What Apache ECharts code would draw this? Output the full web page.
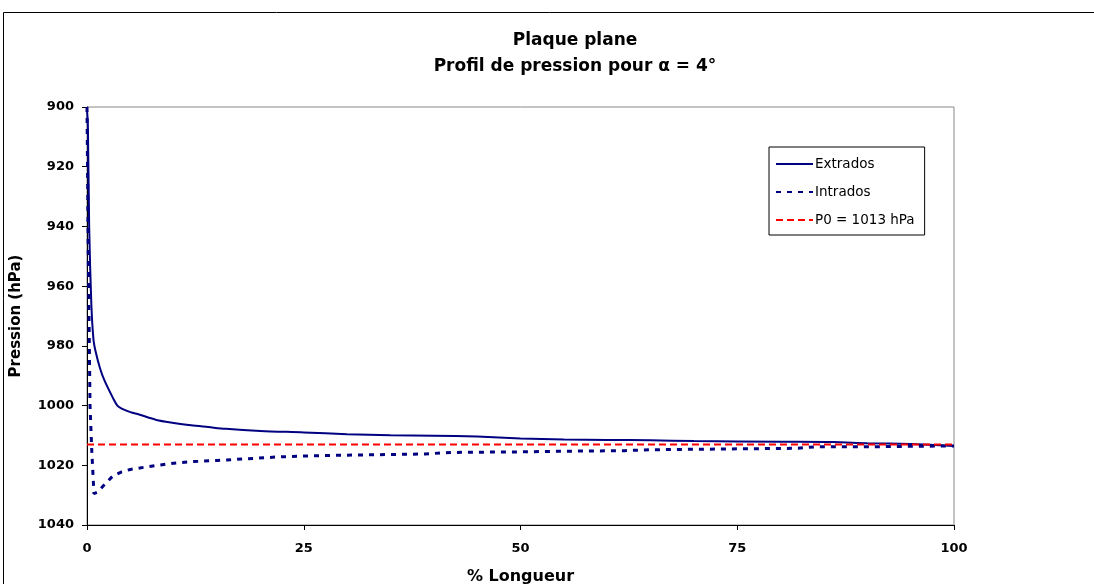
<!DOCTYPE html>
<html>
<head>
<meta charset="utf-8">
<script src="https://cdn.jsdelivr.net/npm/echarts@6/dist/echarts.min.js"></script>
<style>html,body{margin:0;padding:0;background:#fff;}#c{width:1094px;height:584px;}</style>
</head>
<body>
<div id="c"></div>
<script>
// % longueur / pression (hPa)
const extradosX = [0, 0.1, 0.25, 0.5, 0.75, 1, 1.5, 2, 3, 3.5, 4, 5, 6, 8, 10, 12, 14, 16, 20, 25, 30, 35, 40, 45, 50, 55, 60, 65, 70, 80, 86, 90, 95, 100];
const extradosP = [901, 906, 940, 966, 978, 982, 987.5, 991.5, 997.5, 1000, 1001, 1002.2, 1003, 1004.8, 1005.8, 1006.6, 1007.2, 1007.8, 1008.5, 1009, 1009.6, 1009.9, 1010.1, 1010.4, 1011, 1011.4, 1011.5, 1011.6, 1011.9, 1012.1, 1012.2, 1012.6, 1012.9, 1013.5];
const intradosX = [0, 0.15, 0.35, 0.55, 0.8, 1.2, 2, 3, 4, 5, 6.5, 8.5, 10, 12, 15, 18, 22, 25, 30, 35, 39, 42, 50, 55, 62, 65, 75, 82, 84, 90, 100];
const intradosP = [900, 950, 1000, 1015, 1029.5, 1029, 1026.5, 1023.5, 1022.2, 1021.4, 1020.7, 1019.9, 1019.3, 1018.8, 1018.4, 1017.9, 1017.2, 1016.9, 1016.6, 1016.4, 1016.2, 1015.7, 1015.5, 1015.3, 1015.1, 1014.8, 1014.5, 1014.3, 1013.8, 1013.8, 1013.5];
const p0X = [0, 100];
const p0P = [1013, 1013];
const seriesNames = ['Extrados', 'Intrados', 'P0 = 1013 hPa'];
const titleText = 'Plaque plane\nProfil de pression pour α = 4°';
const xTitle = '% Longueur';
const yTitle = 'Pression (hPa)';

const zip = (a, b) => a.map((v, i) => [v, b[i]]);
const chart = echarts.init(document.getElementById('c'), null, {renderer: 'canvas'});
const font = '"DejaVu Sans", Arial, sans-serif';
chart.setOption({
  animation: false,
  backgroundColor: '#fff',
  graphic: [{
    type: 'rect', shape: {x: 3.5, y: 12.5, width: 1200, height: 700},
    style: {fill: null, stroke: '#000', lineWidth: 1}, z: -1
  }],
  title: {
    text: titleText, left: 570, top: 23, textAlign: 'center',
    textStyle: {fontFamily: font, fontWeight: 'bold', fontSize: 17, lineHeight: 26, color: '#000'}
  },
  grid: {left: 87, top: 107, width: 867, height: 418, show: true, borderColor: '#888', borderWidth: 1,
         backgroundColor: '#fff', outerBoundsMode: 'none', containLabel: false},
  legend: {
    orient: 'vertical', left: 769, top: 147,
    data: seriesNames,
    backgroundColor: '#fff', borderColor: '#000', borderWidth: 1,
    padding: [10, 10, 8, 6], itemGap: 14, itemWidth: 37, itemHeight: 17,
    itemStyle: {opacity: 0},
    textStyle: {fontFamily: font, fontSize: 13.5, color: '#000', padding: [0, 0, 0, -3]}
  },
  xAxis: {
    type: 'value', min: 0, max: 100, interval: 25,
    name: xTitle, nameLocation: 'middle', nameGap: 44,
    nameTextStyle: {fontFamily: font, fontWeight: 'bold', fontSize: 16, color: '#000'},
    axisLine: {lineStyle: {color: '#000', width: 1}},
    axisTick: {show: true, length: 5, lineStyle: {color: '#000'}},
    axisLabel: {margin: 17, fontFamily: font, fontWeight: 'bold', fontSize: 13, color: '#000'},
    splitLine: {show: false}
  },
  yAxis: {
    type: 'value', inverse: true, min: 900, max: 1040, interval: 20,
    name: yTitle, nameLocation: 'middle', nameGap: 63, nameRotate: 90,
    nameTextStyle: {fontFamily: font, fontWeight: 'bold', fontSize: 15, color: '#000'},
    axisLine: {show: true, lineStyle: {color: '#000', width: 1}},
    axisTick: {show: true, length: 5, lineStyle: {color: '#000'}},
    axisLabel: {margin: 13, fontFamily: font, fontWeight: 'bold', fontSize: 13, color: '#000',
                formatter: v => String(v)},
    splitLine: {show: false}
  },
  series: [
    {name: seriesNames[0], type: 'line', data: zip(extradosX, extradosP), symbol: 'none', smooth: 0.3,
     lineStyle: {color: '#000080', width: 2}, itemStyle: {color: '#000080'}, z: 3},
    {name: seriesNames[1], type: 'line', data: zip(intradosX, intradosP), symbol: 'none',
     lineStyle: {color: '#000080', width: 3, type: [5, 6]}, itemStyle: {color: '#000080'}, z: 2},
    {name: seriesNames[2], type: 'line', data: zip(p0X, p0P), symbol: 'none',
     lineStyle: {color: '#ff0000', width: 2, type: [7, 4]}, itemStyle: {color: '#ff0000'}, z: 4}
  ]
});
</script>
</body>
</html>
